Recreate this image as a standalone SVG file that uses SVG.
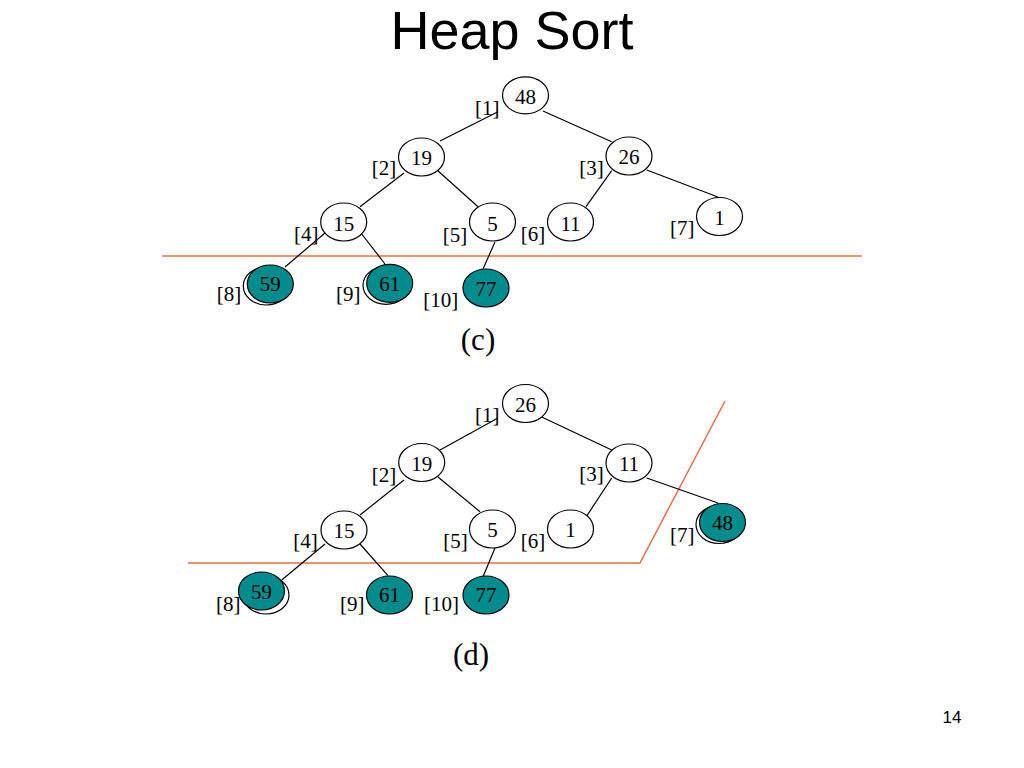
<svg xmlns="http://www.w3.org/2000/svg" width="1024" height="768" viewBox="0 0 1024 768">
<style>
.n{fill:#fff;stroke:#000;stroke-width:1.2}
.f{fill:#008C8C;stroke:#000;stroke-width:1.2}
.o{fill:#fff;stroke:#000;stroke-width:1.2}
.e{stroke:#000;stroke-width:1.2;fill:none}
.cut{stroke:#E0704A;stroke-width:1.5;fill:none}
.v{font-family:"Liberation Serif","Times New Roman",serif;font-size:21px;text-anchor:middle;fill:#000}
.i{font-family:"Liberation Serif","Times New Roman",serif;font-size:21px;fill:#000}
.cap{font-family:"Liberation Serif","Times New Roman",serif;font-size:31px;text-anchor:middle;fill:#000}
.sans{font-family:"Liberation Sans",Arial,sans-serif;text-anchor:middle;fill:#000}
</style>
<rect width="1024" height="768" fill="#fff"/>
<text class="sans" x="512" y="49" font-size="54">Heap Sort</text>

<!-- (c) -->
<g id="c-cut"><line class="cut" x1="162" y1="256" x2="862" y2="256"/></g>
<g id="c-edges">
<line class="e" x1="440" y1="141" x2="498" y2="111.7"/>
<line class="e" x1="543" y1="111" x2="611.7" y2="141.7"/>
<line class="e" x1="404" y1="173" x2="360" y2="206.7"/>
<line class="e" x1="437" y1="170" x2="478" y2="206.7"/>
<line class="e" x1="611.7" y1="170.7" x2="586" y2="206.7"/>
<line class="e" x1="646.7" y1="170" x2="718" y2="197"/>
<line class="e" x1="325" y1="233" x2="285" y2="267"/>
<line class="e" x1="361.7" y1="234" x2="385" y2="264"/>
<line class="e" x1="495" y1="242" x2="483" y2="269"/>
</g>
<g id="c-n1"><ellipse class="n" cx="525.5" cy="95.3" rx="23" ry="18.5"/><text class="v" x="525.5" y="104">48</text><text class="i" x="475" y="114.5">[1]</text></g>
<g id="c-n2"><ellipse class="n" cx="421.5" cy="157" rx="23" ry="19"/><text class="v" x="421.5" y="165">19</text><text class="i" x="371.7" y="174.5">[2]</text></g>
<g id="c-n3"><ellipse class="n" cx="629" cy="156" rx="23" ry="19"/><text class="v" x="629" y="164">26</text><text class="i" x="579.3" y="174.5">[3]</text></g>
<g id="c-n4"><ellipse class="n" cx="343.7" cy="222" rx="23" ry="19"/><text class="v" x="343.7" y="230.5">15</text><text class="i" x="294" y="241">[4]</text></g>
<g id="c-n5"><ellipse class="n" cx="492.5" cy="222" rx="23" ry="19"/><text class="v" x="492.5" y="230.5">5</text><text class="i" x="442.7" y="241.5">[5]</text></g>
<g id="c-n6"><ellipse class="n" cx="570.5" cy="222" rx="23" ry="19"/><text class="v" x="570.5" y="230.5">11</text><text class="i" x="520.7" y="240.5">[6]</text></g>
<g id="c-n7"><ellipse class="n" cx="719.5" cy="216.5" rx="23" ry="19"/><text class="v" x="719.5" y="224.5">1</text><text class="i" x="670" y="235">[7]</text></g>
<g id="c-n8"><ellipse class="o" cx="266.3" cy="286" rx="23" ry="19"/><ellipse class="f" cx="270.3" cy="284" rx="23" ry="19"/><text class="v" x="270.3" y="291">59</text><text class="i" x="216.7" y="301">[8]</text></g>
<g id="c-n9"><ellipse class="o" cx="386" cy="285.3" rx="23" ry="19"/><ellipse class="f" cx="389.7" cy="283.3" rx="23" ry="19"/><text class="v" x="389.7" y="291">61</text><text class="i" x="336" y="301">[9]</text></g>
<g id="c-n10"><ellipse class="f" cx="486" cy="288" rx="23" ry="19"/><text class="v" x="486" y="295.5">77</text><text class="i" x="423.3" y="306.5">[10]</text></g>
<text class="cap" x="478" y="350">(c)</text>

<!-- (d) -->
<g id="d-cut"><polyline class="cut" points="188,563 640,563 725,401"/></g>
<g id="d-edges">
<line class="e" x1="440" y1="450" x2="498" y2="418"/>
<line class="e" x1="541.7" y1="417" x2="611.7" y2="450"/>
<line class="e" x1="404" y1="480" x2="360" y2="515"/>
<line class="e" x1="438" y1="477" x2="480" y2="511.7"/>
<line class="e" x1="611.7" y1="478" x2="586.7" y2="516"/>
<line class="e" x1="646.7" y1="478" x2="718" y2="503"/>
<line class="e" x1="325" y1="544" x2="281.7" y2="580"/>
<line class="e" x1="360" y1="544" x2="388" y2="575.7"/>
<line class="e" x1="495" y1="548" x2="483" y2="576.7"/>
</g>
<g id="d-n1"><ellipse class="n" cx="525.5" cy="403.5" rx="23" ry="19"/><text class="v" x="525.5" y="411.5">26</text><text class="i" x="475" y="422">[1]</text></g>
<g id="d-n2"><ellipse class="n" cx="421.7" cy="462.5" rx="23" ry="19"/><text class="v" x="421.7" y="470.5">19</text><text class="i" x="371.7" y="482">[2]</text></g>
<g id="d-n3"><ellipse class="n" cx="629" cy="463" rx="23" ry="19"/><text class="v" x="629" y="471">11</text><text class="i" x="579.3" y="481">[3]</text></g>
<g id="d-n4"><ellipse class="n" cx="344" cy="530" rx="23" ry="19"/><text class="v" x="344" y="538">15</text><text class="i" x="293.3" y="548">[4]</text></g>
<g id="d-n5"><ellipse class="n" cx="492.5" cy="529" rx="23" ry="19"/><text class="v" x="492.5" y="537">5</text><text class="i" x="443.3" y="548">[5]</text></g>
<g id="d-n6"><ellipse class="n" cx="570.5" cy="529" rx="23" ry="19"/><text class="v" x="570.5" y="537">1</text><text class="i" x="520.7" y="548">[6]</text></g>
<g id="d-n7"><ellipse class="o" cx="719" cy="524.5" rx="23" ry="19"/><ellipse class="f" cx="722.5" cy="522.5" rx="23" ry="19"/><text class="v" x="722.5" y="530">48</text><text class="i" x="670" y="542">[7]</text></g>
<g id="d-n8"><ellipse class="o" cx="266" cy="595" rx="23" ry="19"/><ellipse class="f" cx="261.5" cy="591" rx="23" ry="19"/><text class="v" x="261.5" y="598.5">59</text><text class="i" x="216" y="611">[8]</text></g>
<g id="d-n9"><ellipse class="f" cx="389.5" cy="595" rx="23" ry="19"/><text class="v" x="389.5" y="602">61</text><text class="i" x="340" y="611">[9]</text></g>
<g id="d-n10"><ellipse class="f" cx="486" cy="595" rx="23" ry="19"/><text class="v" x="486" y="602">77</text><text class="i" x="424" y="611">[10]</text></g>
<text class="cap" x="471" y="665">(d)</text>

<text class="sans" x="952" y="723" font-size="17">14</text>
</svg>
